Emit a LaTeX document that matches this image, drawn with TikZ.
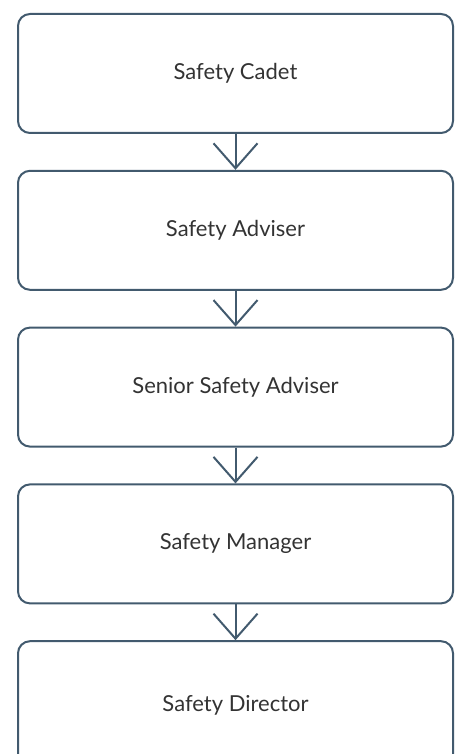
\documentclass[tikz,border=0pt]{standalone}
\usepackage{fontspec}
\setmainfont{Lato}
\usetikzlibrary{arrows.meta, positioning}

\definecolor{slate}{HTML}{425A6E}
\definecolor{textgray}{HTML}{333333}

\begin{document}
\begin{tikzpicture}[
  x=1pt, y=1pt,
  node distance=35.8pt,
  role/.style = {draw=slate, line width=2pt, rounded corners=12pt,
                 minimum width=435pt, minimum height=119pt,
                 text=textgray, font=\fontsize{22}{26}\selectfont},
  arrow/.style = {draw=slate, line width=2pt,
                  -{Straight Barb[length=25pt, width=44pt]}}
]

% Page frame
\useasboundingbox (0,0) rectangle (459,-754);

% Career steps
\node[role, anchor=north] (cadet) at (235.5,-13) {Safety Cadet};
\node[role, below=of cadet] (adviser) {Safety Adviser};
\node[role, below=of adviser] (senior) {Senior Safety Adviser};
\node[role, below=of senior] (manager) {Safety Manager};
\node[role, below=of manager, minimum height=128pt] (director) {Safety Director};

% Arrows between steps
\draw[arrow] (cadet) -- (adviser);
\draw[arrow] (adviser) -- (senior);
\draw[arrow] (senior) -- (manager);
\draw[arrow] (manager) -- (director);

\end{tikzpicture}
\end{document}
